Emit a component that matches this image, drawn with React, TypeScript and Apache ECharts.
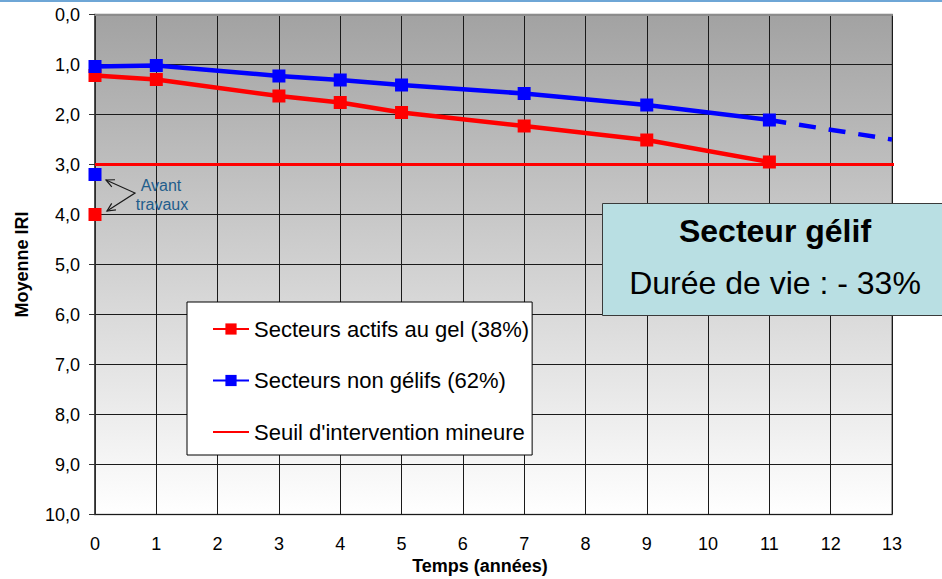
import React, { useEffect, useRef } from "react";
import * as echarts from "echarts";

// Years since the works, and mean IRI per sector type
const years = [0, 1, 3, 4, 5, 7, 9, 11];
const gelValues = [1.22, 1.3, 1.63, 1.76, 1.96, 2.23, 2.51, 2.95];
const nonGelifValues = [1.04, 1.02, 1.23, 1.31, 1.41, 1.58, 1.81, 2.11];

// Projected trend of the non-frost sectors beyond the last survey
const projectionYears = [11, 13];
const projectionValues = [2.11, 2.5];

// IRI measured before the works (year 0)
const avantTravauxGel = 4.0;
const avantTravauxNonGelif = 3.2;

// Minor intervention threshold, drawn across the whole time span
const seuilYears = [0, 13.1];
const seuilValue = 3.0;

const legendNames = [
  "Secteurs actifs au gel (38%)",
  "Secteurs non gélifs (62%)",
  "Seuil d'intervention mineure",
];

const RED = "#ff0000";
const BLUE = "#0000ff";
const FONT = "'Liberation Sans', Arial, sans-serif";

const zip = (xs: number[], ys: number[]) => xs.map((x, i) => [x, ys[i]]);

// Open V arrow head at `tip`, pointing away from `from`
function arrowHead(tip: number[], from: number[], len = 9, spread = 0.45) {
  const ang = Math.atan2(tip[1] - from[1], tip[0] - from[0]);
  const a1 = ang + Math.PI - spread;
  const a2 = ang + Math.PI + spread;
  return [
    [tip[0] + len * Math.cos(a1), tip[1] + len * Math.sin(a1)],
    tip,
    [tip[0] + len * Math.cos(a2), tip[1] + len * Math.sin(a2)],
  ];
}

export default function App() {
  const ref = useRef<HTMLDivElement>(null);

  useEffect(() => {
    if (!ref.current) return;
    const chart = echarts.init(ref.current, null, { renderer: "svg" });

    const apex = [135, 193];
    const tipBlue = [106, 180];
    const tipRed = [107, 211];

    chart.setOption({
      animation: false,
      backgroundColor: "#ffffff",
      grid: {
        left: 95,
        right: 50,
        top: 14.5,
        bottom: 64.5,
        outerBoundsMode: "none",
        containLabel: false,
        show: true,
        backgroundColor: new echarts.graphic.LinearGradient(0, 0, 0, 1, [
          { offset: 0, color: "#a2a2a2" },
          { offset: 1, color: "#ffffff" },
        ]),
        borderColor: "#7f7f7f",
        borderWidth: 1.5,
      },
      xAxis: {
        type: "value",
        min: 0,
        max: 13,
        interval: 1,
        axisLine: { show: true, lineStyle: { color: "#8c8c8c", width: 2 } },
        axisTick: { show: false },
        axisLabel: {
          margin: 20,
          fontFamily: FONT,
          fontSize: 18,
          color: "#000",
        },
        splitLine: { show: true, lineStyle: { color: "#1a1a1a", width: 1 } },
      },
      yAxis: {
        type: "value",
        inverse: true,
        min: 0,
        max: 10,
        interval: 1,
        name: "Moyenne IRI",
        nameLocation: "middle",
        nameGap: 64,
        nameTextStyle: {
          fontFamily: FONT,
          fontSize: 18,
          fontWeight: "bold",
          color: "#000",
        },
        axisLine: { show: true, lineStyle: { color: "#333", width: 1.5 } },
        axisTick: { show: true, length: 6, lineStyle: { color: "#333" } },
        axisLabel: {
          margin: 15,
          fontFamily: FONT,
          fontSize: 18,
          color: "#000",
          formatter: (v: number) => v.toFixed(1).replace(".", ","),
        },
        splitLine: { show: true, lineStyle: { color: "#1a1a1a", width: 1 } },
      },
      legend: {
        data: [
          { name: legendNames[0] },
          { name: legendNames[1] },
          { name: legendNames[2], itemStyle: { opacity: 0 } },
        ],
        orient: "vertical",
        left: 187,
        top: 302,
        padding: [15, 3, 11, 25],
        itemGap: 27.5,
        itemWidth: 36,
        itemHeight: 14,
        itemStyle: { borderWidth: 0 },
        backgroundColor: "#ffffff",
        borderColor: "#000000",
        borderWidth: 1,
        textStyle: {
          fontFamily: FONT,
          fontSize: 22,
          lineHeight: 24,
          color: "#000",
        },
        itemTextGap: 5,
      },
      series: [
        {
          name: legendNames[2],
          type: "line",
          data: zip(seuilYears, seuilYears.map(() => seuilValue)),
          symbol: "none",
          clip: false,
          z: 1,
          lineStyle: { color: RED, width: 3 },
          itemStyle: { color: RED },
        },
        {
          name: legendNames[0],
          type: "line",
          data: zip(years, gelValues),
          symbol: "rect",
          symbolSize: 13,
          z: 3,
          lineStyle: { color: RED, width: 4.5 },
          itemStyle: { color: RED },
        },
        {
          name: "Projection",
          type: "line",
          data: zip(projectionYears, projectionValues),
          symbol: "none",
          z: 2,
          lineStyle: { color: BLUE, width: 4.5, type: [17, 13] },
        },
        {
          name: legendNames[1],
          type: "line",
          data: zip(years, nonGelifValues),
          symbol: "rect",
          symbolSize: 13,
          z: 4,
          lineStyle: { color: BLUE, width: 4.5 },
          itemStyle: { color: BLUE },
        },
        {
          name: "Avant travaux (gel)",
          type: "scatter",
          data: [[0, avantTravauxGel]],
          symbol: "rect",
          symbolSize: 13,
          clip: false,
          z: 4,
          itemStyle: { color: RED, opacity: 1 },
        },
        {
          name: "Avant travaux (non gélif)",
          type: "scatter",
          data: [[0, avantTravauxNonGelif]],
          symbol: "rect",
          symbolSize: 13,
          clip: false,
          z: 4,
          itemStyle: { color: BLUE, opacity: 1 },
        },
      ],
      graphic: [
        {
          type: "rect",
          shape: { x: 0, y: 0, width: 942, height: 2 },
          style: { fill: "#6ea6d6" },
        },
        {
          type: "text",
          x: 480,
          y: 566,
          style: {
            text: "Temps (années)",
            font: `bold 18px ${FONT}`,
            fill: "#000",
            textAlign: "center",
            textVerticalAlign: "middle",
          },
        },
        // "Avant travaux" callout
        {
          type: "polyline",
          shape: { points: [tipBlue, apex, tipRed] },
          style: { stroke: "#1a1a1a", lineWidth: 1.2, fill: "none" },
          z: 10,
        },
        {
          type: "polyline",
          shape: { points: arrowHead(tipBlue, apex) },
          style: { stroke: "#1a1a1a", lineWidth: 1.2, fill: "none" },
          z: 10,
        },
        {
          type: "polyline",
          shape: { points: arrowHead(tipRed, apex) },
          style: { stroke: "#1a1a1a", lineWidth: 1.2, fill: "none" },
          z: 10,
        },
        {
          type: "text",
          x: 161,
          y: 185,
          z: 10,
          style: {
            text: "Avant",
            font: `16px ${FONT}`,
            fill: "#1f5d8c",
            textAlign: "center",
            textVerticalAlign: "middle",
          },
        },
        {
          type: "text",
          x: 162,
          y: 204,
          z: 10,
          style: {
            text: "travaux",
            font: `16px ${FONT}`,
            fill: "#1f5d8c",
            textAlign: "center",
            textVerticalAlign: "middle",
          },
        },
        // Summary box
        {
          type: "rect",
          z: 20,
          shape: { x: 602.5, y: 203.5, width: 345, height: 112 },
          style: { fill: "#b9dfe3", stroke: "#3a3a3a", lineWidth: 1 },
        },
        {
          type: "text",
          x: 775,
          y: 231,
          z: 21,
          style: {
            text: "Secteur gélif",
            font: `bold 32px ${FONT}`,
            fill: "#000",
            textAlign: "center",
            textVerticalAlign: "middle",
          },
        },
        {
          type: "text",
          x: 775,
          y: 283,
          z: 21,
          style: {
            text: "Durée de vie : - 33%",
            font: `32px ${FONT}`,
            fill: "#000",
            textAlign: "center",
            textVerticalAlign: "middle",
          },
        },
      ],
    });

    return () => chart.dispose();
  }, []);

  return (
    <div
      ref={ref}
      style={{ position: "absolute", left: 0, top: 0, width: 942, height: 579 }}
    />
  );
}
